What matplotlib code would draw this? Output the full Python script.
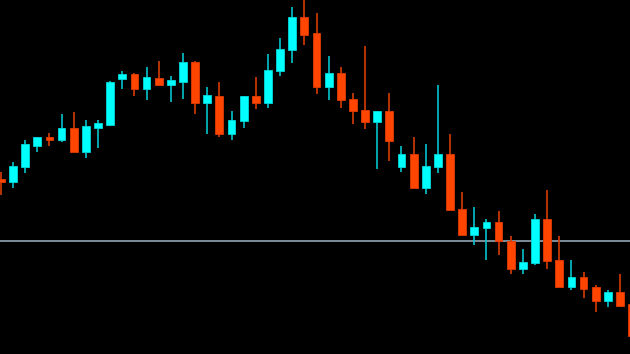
import matplotlib
matplotlib.use("Agg")
import matplotlib.pyplot as plt
import numpy as np

# OHLC values (arbitrary price units, axis hidden)
opens = [175, 172, 187, 208, 217, 214, 226, 202, 226, 229, 275, 280, 265, 276, 269, 272, 292, 251,
         258, 220, 233, 258, 251, 283, 304, 337, 321, 267, 281, 255, 244, 232, 243, 187, 200, 166,
         187, 200, 145, 119, 126, 132, 113, 85, 91, 135, 94, 67, 77, 67, 53, 62, 50]
highs = [182, 192, 214, 217, 221, 240, 242, 234, 234, 273, 283, 281, 287, 293, 278, 301, 293, 267,
         272, 243, 258, 277, 300, 316, 347, 360, 341, 298, 287, 261, 308, 243, 261, 208, 217, 210,
         269, 220, 162, 147, 135, 143, 118, 105, 140, 164, 118, 94, 82, 69, 64, 80, 64]
lows = [159, 166, 181, 202, 208, 212, 202, 196, 206, 228, 265, 258, 254, 269, 252, 255, 240, 220,
        217, 214, 226, 245, 246, 278, 291, 309, 260, 254, 246, 230, 225, 185, 193, 182, 166, 160,
        181, 144, 119, 109, 94, 99, 80, 80, 89, 85, 67, 64, 56, 42, 47, 47, 14]
closes = [172, 188, 210, 217, 214, 226, 202, 228, 231, 272, 280, 265, 277, 269, 274, 292, 251, 259,
          220, 234, 258, 251, 284, 305, 337, 319, 267, 281, 254, 243, 232, 243, 213, 200, 166, 188,
          200, 144, 119, 127, 132, 113, 85, 92, 135, 93, 67, 77, 65, 53, 62, 48, 18]
level = 113.3

UP_BODY, UP_WICK, UP_EDGE = "#00ffff", "#00c4cc", "#00d8dc"
DN_BODY, DN_WICK, DN_EDGE = "#ff4500", "#d83c00", "#e03c00"

fig = plt.figure(figsize=(6.3, 3.54), dpi=100, facecolor="black")
ax = fig.add_axes([0, 0, 1, 1])
ax.set_facecolor("black")

x = np.arange(len(opens))
o = np.array(opens, dtype=float)
c = np.array(closes, dtype=float)
h = np.array(highs, dtype=float)
l = np.array(lows, dtype=float)
up = c >= o

ax.axhline(level, color="#7d8d9b", linewidth=1.4, zorder=1)

ax.vlines(x[up], l[up], h[up], color=UP_WICK, linewidth=1.2, zorder=2)
ax.vlines(x[~up], l[~up], h[~up], color=DN_WICK, linewidth=1.2, zorder=2)

bottom = np.minimum(o, c)
height = np.maximum(np.abs(c - o), 1.5)
ax.bar(x[up], height[up], bottom=bottom[up], width=0.64, color=UP_BODY,
       edgecolor=UP_EDGE, linewidth=0.6, zorder=3)
ax.bar(x[~up], height[~up], bottom=bottom[~up], width=0.64, color=DN_BODY,
       edgecolor=DN_EDGE, linewidth=0.6, zorder=3)

step = 12.14
ax.set_xlim(-0.86 / step, (630 - 0.86) / step)
ax.set_ylim(0, 354)
ax.axis("off")

fig.savefig("out.png", dpi=100, facecolor="black")
